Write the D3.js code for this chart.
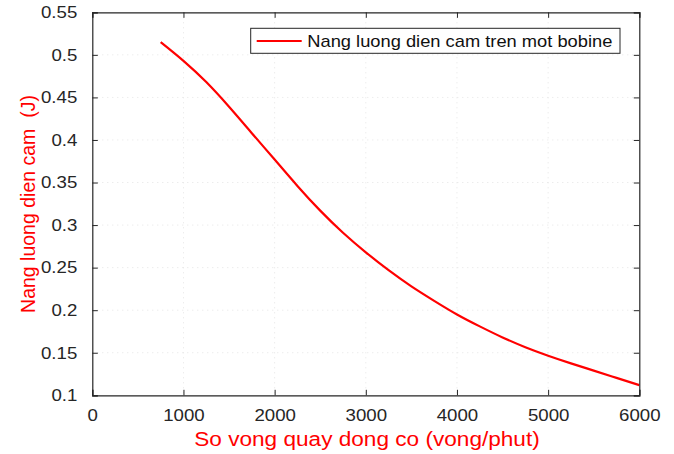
<!DOCTYPE html>
<html><head><meta charset="utf-8">
<script src="https://cdn.jsdelivr.net/npm/d3@7"></script>
<style>body{margin:0;background:#fff}svg{display:block}</style></head>
<body><svg id="c" width="674" height="454"></svg>
<script>
const rpm    = [750,1000,1250,1500,1750,2000,2250,2500,2750,3000,3250,3500,3750,4000,4250,4500,4750,5000,5250,5500,5750,6000];
const energy = [0.515,0.493,0.468,0.439,0.408,0.377,0.346,0.317,0.291,0.268,0.247,0.228,0.211,0.195,0.181,0.168,0.1565,0.1465,0.1375,0.129,0.1205,0.112];
const xTicks = [0,1000,2000,3000,4000,5000,6000];
const yTicks = [0.1,0.15,0.2,0.25,0.3,0.35,0.4,0.45,0.5,0.55];
const yTickLabels = ["0.1","0.15","0.2","0.25","0.3","0.35","0.4","0.45","0.5","0.55"];
const seriesName = "Nang luong dien cam tren mot bobine";
const xTitle = "So vong quay dong co (vong/phut)";
const yTitle = "Nang luong dien cam  (J)";

const SX = 1.13; // horizontal glyph stretch seen in the picture
const L = 92.3, R = 639.3, T = 12.3, B = 395.3;
const svg = d3.select("#c");
const x = d3.scaleLinear().domain([0,6000]).range([L,R]);
const y = d3.scaleLinear().domain([0.1,0.55]).range([B,T]);
const font = "'Liberation Sans', Arial, sans-serif";
const axisCol = "#262626";

function stretch(sel){
  sel.each(function(){
    const w = this.getComputedTextLength();
    d3.select(this).attr("textLength", w*SX).attr("lengthAdjust","spacingAndGlyphs");
  });
}

// faint dotted grid
const grid = svg.append("g").attr("stroke","#e4e4e4").attr("stroke-width",1).attr("stroke-dasharray","1,4");
grid.selectAll("line.v").data(xTicks.slice(1,-1)).join("line")
  .attr("x1",d=>x(d)).attr("x2",d=>x(d)).attr("y1",T).attr("y2",B);
grid.selectAll("line.h").data(yTicks.slice(1,-1)).join("line")
  .attr("x1",L).attr("x2",R).attr("y1",d=>y(d)).attr("y2",d=>y(d));

// curve
const line = d3.line().x((d,i)=>x(rpm[i])).y(d=>y(d)).curve(d3.curveNatural);
svg.append("path").datum(energy).attr("d",line)
  .attr("fill","none").attr("stroke","#ff0000").attr("stroke-width",2.2);

// axes with inward ticks
const tk = 5.5;
const gx = svg.append("g").attr("transform",`translate(0,${B})`)
  .call(d3.axisBottom(x).tickValues(xTicks).tickSize(-tk).tickPadding(14).tickFormat(d3.format("d")));
const gxt = svg.append("g").attr("transform",`translate(0,${T})`)
  .call(d3.axisTop(x).tickValues(xTicks).tickSize(-tk).tickFormat(""));
const gy = svg.append("g").attr("transform",`translate(${L},0)`)
  .call(d3.axisLeft(y).tickValues(yTicks).tickSize(-tk).tickPadding(15).tickFormat((d,i)=>yTickLabels[i]));
const gyr = svg.append("g").attr("transform",`translate(${R},0)`)
  .call(d3.axisRight(y).tickValues(yTicks).tickSize(-tk).tickFormat(""));
[gx,gxt,gy,gyr].forEach(g=>{
  g.select(".domain").attr("stroke",axisCol).attr("stroke-width",1.2);
  g.selectAll(".tick line").attr("stroke",axisCol).attr("stroke-width",1);
  g.selectAll(".tick text").attr("fill",axisCol).style("font-family",font).style("font-size","16.5px");
});
gx.selectAll(".tick text").call(stretch);
gy.selectAll(".tick text").call(stretch);

// axis titles
svg.append("text").attr("x",367).attr("y",446).attr("text-anchor","middle")
  .attr("fill","#ff0000").style("font-family",font).style("font-size","20px").text(xTitle).call(stretch);
svg.append("text").attr("transform","translate(35,204) rotate(-90)").attr("text-anchor","middle")
  .attr("fill","#ff0000").style("font-family",font).style("font-size","19.5px").style("white-space","pre").text(yTitle);

// legend
const lg = svg.append("g");
lg.append("rect").attr("x",250.7).attr("y",28.3).attr("width",369.3).attr("height",25)
  .attr("fill","#fff").attr("stroke",axisCol).attr("stroke-width",1);
lg.append("line").attr("x1",256.7).attr("x2",301.7).attr("y1",41).attr("y2",41)
  .attr("stroke","#ff0000").attr("stroke-width",2.2);
lg.append("text").attr("x",307.3).attr("y",46.8).attr("fill","#111")
  .style("font-family",font).style("font-size","16.2px").text(seriesName).call(stretch);
</script></body></html>
